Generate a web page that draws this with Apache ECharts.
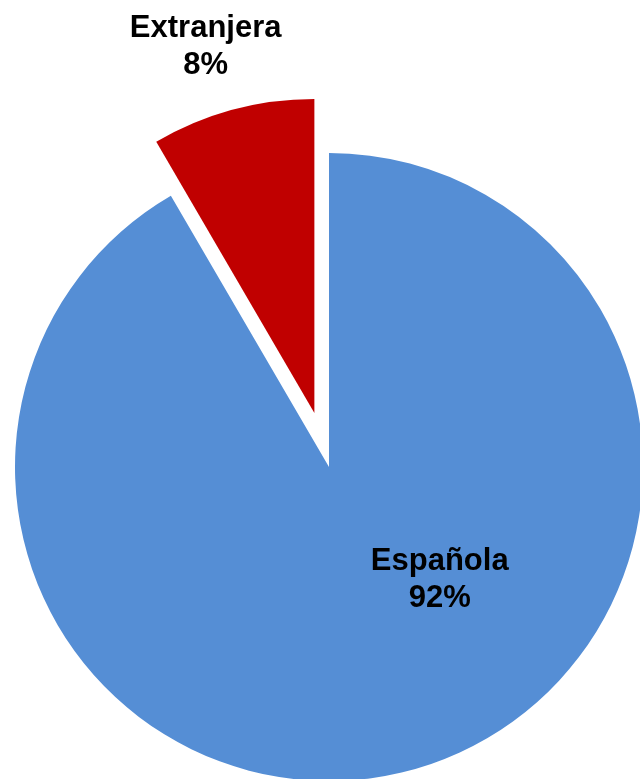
<!DOCTYPE html>
<html>
<head>
<meta charset="utf-8">
<script src="https://cdn.jsdelivr.net/npm/echarts@6/dist/echarts.min.js"></script>
<style>
  html, body { margin: 0; padding: 0; background: #fff; }
  #pieChart { width: 640px; height: 779px; }
</style>
</head>
<body>
<div id="pieChart"></div>
<script>
var categories = ['Extranjera', 'Española'];
var shares = [8.4, 91.6];
var colors = ['#C00000', '#558ED5'];
// label nudges from the default inside spot
var labelShift = [[-67, -212], [69, -42]];

var pieChartDom = document.getElementById('pieChart');
var pieChart = echarts.init(pieChartDom, null, { renderer: 'canvas' });

var pieData = categories.map(function (name, i) {
    return {
        name: name,
        value: shares[i],
        selected: i === 0,
        itemStyle: { color: colors[i] }
    };
});

pieChartOption = {
    animation: false,
    series: [
      {
        type: 'pie',
        center: [329, 467],
        radius: 314,
        startAngle: 90,
        clockwise: false,
        percentPrecision: 0,
        selectedMode: 'single',
        selectedOffset: 56,
        emphasis: { disabled: true },
        label: {
            show: true,
            position: 'inside',
            formatter: '{b}\n{d}%',
            fontFamily: 'Liberation Sans, Arial, sans-serif',
            fontWeight: 'bold',
            fontSize: 31,
            lineHeight: 37,
            color: '#000'
        },
        labelLine: { show: false },
        labelLayout: function (params) {
            var s = labelShift[params.dataIndex];
            return { dx: s[0], dy: s[1] };
        },
        data: pieData
      }
    ]
};

pieChart.setOption(pieChartOption);
</script>
</body>
</html>
